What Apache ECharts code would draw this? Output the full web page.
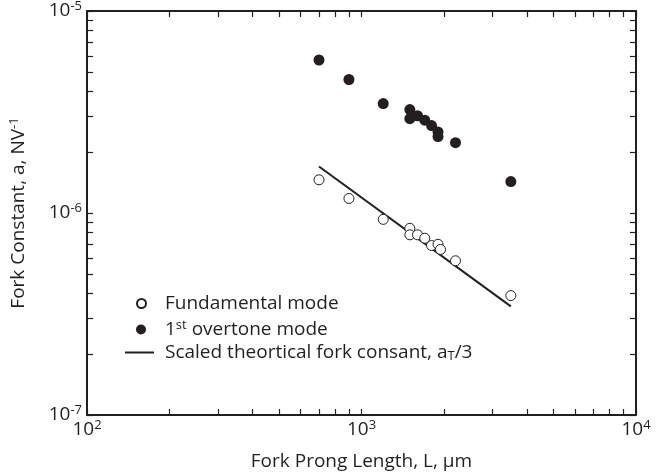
<!DOCTYPE html>
<html>
<head>
<meta charset="utf-8">
<script src="https://cdn.jsdelivr.net/npm/echarts@6/dist/echarts.min.js"></script>
<style>html,body{margin:0;padding:0;background:#fff}#c{width:656px;height:476px}</style>
</head>
<body>
<div id="c"></div>
<script>
// ---- data ----
const fundLength = [700, 900, 1200, 1500, 1500, 1600, 1700, 1800, 1900, 1940, 2200, 3500];
const fundConst  = [1.46e-6, 1.18e-6, 9.3e-7, 8.4e-7, 7.8e-7, 7.8e-7, 7.5e-7, 6.9e-7, 7.0e-7, 6.6e-7, 5.8e-7, 3.9e-7];
const overLength = [700, 900, 1200, 1500, 1500, 1600, 1700, 1800, 1900, 1900, 2200, 3500];
const overConst  = [5.72e-6, 4.58e-6, 3.48e-6, 3.25e-6, 2.93e-6, 3.03e-6, 2.88e-6, 2.71e-6, 2.52e-6, 2.39e-6, 2.23e-6, 1.43e-6];
const theoryLength = [700, 3500];
const theoryConst  = [1.70e-6, 3.45e-7];
const xTicks = [100,200,300,400,500,600,700,800,900,1000,2000,3000,4000,5000,6000,7000,8000,9000,10000];
const yTicks = [1e-7,2e-7,3e-7,4e-7,5e-7,6e-7,7e-7,8e-7,9e-7,1e-6,2e-6,3e-6,4e-6,5e-6,6e-6,7e-6,8e-6,9e-6,1e-5];
const xMajor = [100, 1000, 10000];
const yMajor = [1e-7, 1e-6, 1e-5];
const names = ['Fundamental mode', '1st overtone mode', 'Scaled theortical fork consant, aT/3'];

const FONT = 'Open Sans';
const FS = 19, SS = 13;
const INK = '#231f20';
const zip = (a, b) => a.map((v, i) => [v, b[i]]);
const supRich = {
  b: {fontSize: FS, fontFamily: FONT, color: INK},
  s: {fontSize: SS, fontFamily: FONT, color: INK, padding: [0, 0, 9, 0]}
};
function expLabel(v) {
  const e = Math.round(Math.log10(v));
  return '{b|10}{s|' + e + '}';
}
const axisCommon = {
  type: 'log', logBase: 10,
  axisLine: {show: true, lineStyle: {color: INK, width: 2}},
  axisTick: {show: true, inside: true, length: 6, lineStyle: {color: INK, width: 1.2}},
  splitLine: {show: false},
  minorTick: {show: false}
};
const chart = echarts.init(document.getElementById('c'), null, {renderer: 'canvas'});
chart.setOption({
  animation: false,
  backgroundColor: '#fff',
  grid: {left: 83, right: 20, top: 7, bottom: 61, containLabel: false},
  xAxis: [
    Object.assign({}, axisCommon, {
      position: 'bottom', min: 100, max: 10000,
      axisTick: Object.assign({}, axisCommon.axisTick, {customValues: xTicks}),
      axisLabel: {show: true, customValues: xMajor, formatter: expLabel, rich: supRich, margin: 4},
      name: 'Fork Prong Length, L, \u00b5m', nameLocation: 'middle', nameGap: 37,
      nameTextStyle: {fontSize: FS, fontFamily: FONT, color: INK}
    }),
    Object.assign({}, axisCommon, {
      position: 'top', min: 100, max: 10000,
      axisTick: Object.assign({}, axisCommon.axisTick, {customValues: xTicks}),
      axisLabel: {show: false}
    })
  ],
  yAxis: [
    Object.assign({}, axisCommon, {
      position: 'left', min: 1e-7, max: 1e-5,
      axisTick: Object.assign({}, axisCommon.axisTick, {customValues: yTicks}),
      axisLabel: {show: true, customValues: yMajor, formatter: expLabel, rich: supRich, margin: 5},
      name: 'Fork Constant, a, NV{s|-1}', nameLocation: 'middle', nameGap: 57,
      nameTextStyle: {fontSize: FS, fontFamily: FONT, color: INK, rich: supRich}
    }),
    Object.assign({}, axisCommon, {
      position: 'right', min: 1e-7, max: 1e-5,
      axisTick: Object.assign({}, axisCommon.axisTick, {customValues: yTicks}),
      axisLabel: {show: false}
    })
  ],
  legend: [
    {
      data: [names[0]], orient: 'vertical', left: 131, top: 289,
      icon: 'circle', itemWidth: 9, itemHeight: 9,
      textStyle: {fontSize: FS, fontFamily: FONT, color: INK, padding: [0, 0, 0, 14]}
    },
    {
      data: [names[1]], orient: 'vertical', left: 131, top: 314,
      icon: 'circle', itemWidth: 10, itemHeight: 10,
      formatter: () => '{b|1}{s|st}{b| overtone mode}',
      textStyle: {fontSize: FS, fontFamily: FONT, color: INK, padding: [0, 0, 0, 14],
        rich: {b: {fontSize: FS, fontFamily: FONT, color: INK}, s: {fontSize: SS, fontFamily: FONT, color: INK, padding: [0, 0, 8, 0]}}}
    },
    {
      data: [names[2]], orient: 'vertical', left: 120, top: 338,
      icon: 'rect', itemWidth: 29, itemHeight: 2,
      formatter: () => '{b|Scaled theortical fork consant, a}{u|T}{b|/3}',
      textStyle: {fontSize: FS, fontFamily: FONT, color: INK, padding: [0, 0, 0, 6],
        rich: {b: {fontSize: FS, fontFamily: FONT, color: INK}, u: {fontSize: SS, fontFamily: FONT, color: INK, padding: [7, 0, 0, 0]}}}
    }
  ],
  series: [
    {
      name: names[0], type: 'scatter', xAxisIndex: 0, yAxisIndex: 0,
      data: zip(fundLength, fundConst), symbol: 'circle', symbolSize: 10,
      itemStyle: {color: '#fff', borderColor: INK, borderWidth: 1, opacity: 1}, z: 3
    },
    {
      name: names[1], type: 'scatter', xAxisIndex: 0, yAxisIndex: 0,
      data: zip(overLength, overConst), symbol: 'circle', symbolSize: 11,
      itemStyle: {color: INK, borderColor: INK, borderWidth: 0, opacity: 1}, z: 3
    },
    {
      name: names[2], type: 'line', xAxisIndex: 0, yAxisIndex: 0,
      data: zip(theoryLength, theoryConst), showSymbol: false, symbol: 'none',
      lineStyle: {color: INK, width: 2}, itemStyle: {color: INK}, z: 2
    }
  ]
});
</script>
</body>
</html>
